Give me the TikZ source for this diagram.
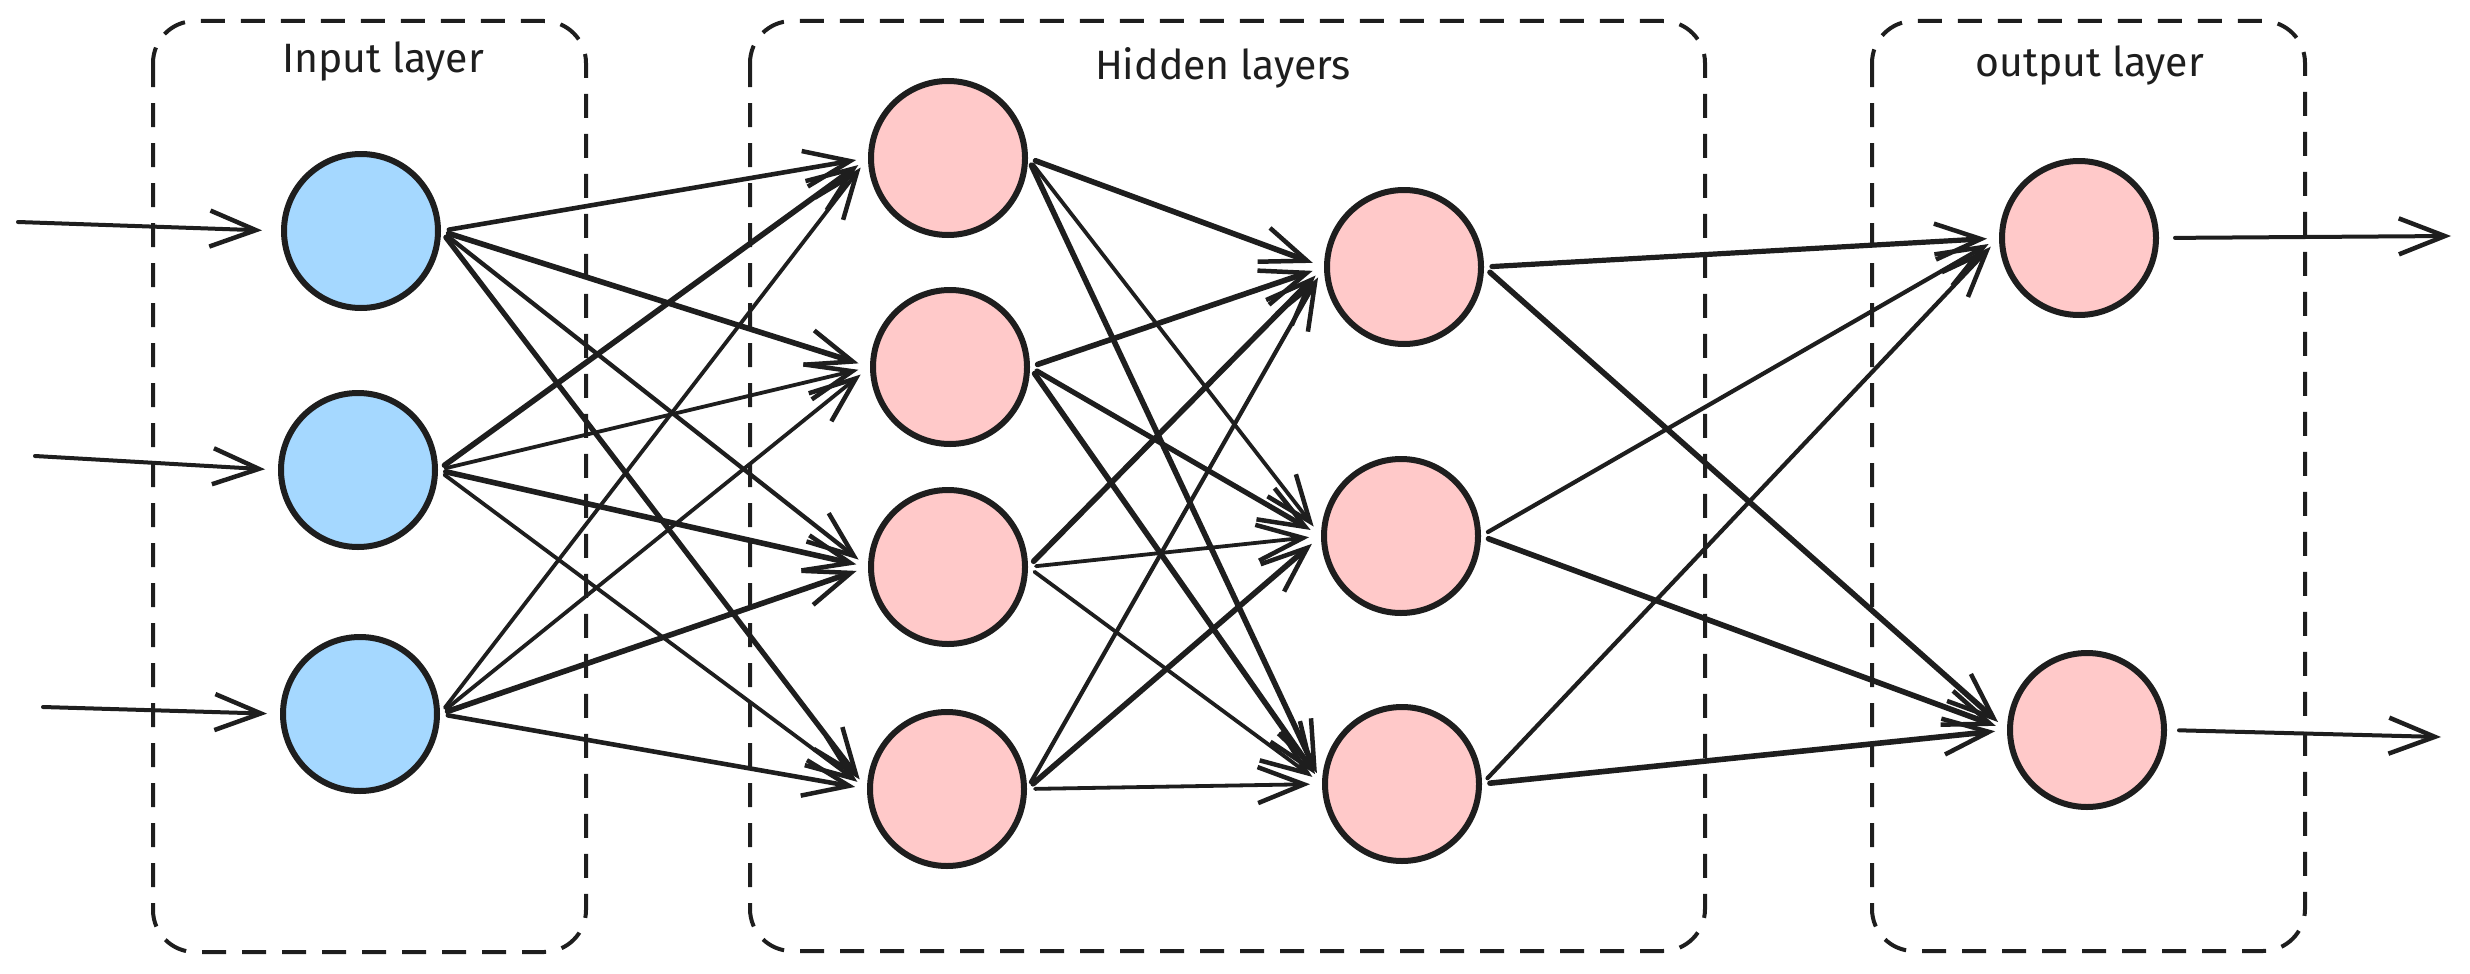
\documentclass[tikz,border=0pt]{standalone}
\usepackage{fontspec}
\setmainfont{Fira Sans}
\usetikzlibrary{arrows.meta}
\definecolor{ink}{HTML}{1E1E1E}
\definecolor{inblue}{HTML}{A5D8FF}
\definecolor{hidpink}{HTML}{FFC9C9}
\begin{document}
\begin{tikzpicture}[x=1pt,y=-1pt,
  neuron/.style={circle, draw=ink, line width=6pt, minimum size=154pt, inner sep=0pt},
  inneuron/.style={neuron, fill=inblue},
  pkneuron/.style={neuron, fill=hidpink},
  layerbox/.style={draw=ink, line width=4pt, dash pattern=on 24pt off 16pt, rounded corners=42pt},
  title/.style={font=\fontsize{41}{48}\selectfont, text=ink, anchor=base},
  conn/.style={draw=ink, line width=4pt, line cap=round, -{Straight Barb[length=46pt, width=36pt, line width=4.5pt]}, shorten >=12pt, shorten <=8pt},
]
\useasboundingbox (0,0) rectangle (2470,974);
% layer boxes
\draw[layerbox] (153,21) rectangle (586,952);
\draw[layerbox] (750,21) rectangle (1705,951);
\draw[layerbox] (1872,21) rectangle (2305,951);
% titles
\node[title] (tin) at (383,73) {Input layer};
\node[title] (thid) at (1223,79) {Hidden layers};
\node[title] (tout) at (2090,76) {output layer};
% neurons
\node[inneuron] (i1) at (361,231) {};
\node[inneuron] (i2) at (358,470) {};
\node[inneuron] (i3) at (360,714) {};
\node[pkneuron] (h1a) at (948,158) {};
\node[pkneuron] (h1b) at (950,367) {};
\node[pkneuron] (h1c) at (948,567) {};
\node[pkneuron] (h1d) at (947,789) {};
\node[pkneuron] (h2a) at (1404,267) {};
\node[pkneuron] (h2b) at (1401,536) {};
\node[pkneuron] (h2c) at (1402,784) {};
\node[pkneuron] (o1) at (2079,238) {};
\node[pkneuron] (o2) at (2087,730) {};
% free ends
\coordinate (s1) at (18,222);
\coordinate (s2) at (35,456);
\coordinate (s3) at (43,707);
\coordinate (e1) at (2451,236);
\coordinate (e2) at (2441,737);
% input arrows
\draw[conn, shorten <=0pt, shorten >=19pt] (s1) -- (i1.west);
\draw[conn, shorten <=0pt, shorten >=13pt] (s2) -- (i2.west);
\draw[conn, shorten <=0pt, shorten >=13pt] (s3) -- (i3.west);
% output arrows
\draw[conn, shorten <=16pt, shorten >=0pt] (o1.east) -- (e1);
\draw[conn, shorten <=12pt, shorten >=0pt] (o2.east) -- (e2);
% input -> hidden 1
\foreach \s/\t/\w in {i1/h1a/4.6, i1/h1b/5.6, i1/h1c/4.3, i1/h1d/5.2,
                      i2/h1a/5.6, i2/h1b/3.8, i2/h1c/5.6, i2/h1d/3.8,
                      i3/h1a/3.8, i3/h1b/3.8, i3/h1c/5.6, i3/h1d/4.6}
  \draw[conn, line width=\w pt] (\s.east) -- (\t.west);
% hidden 1 -> hidden 2
\foreach \s/\t/\w in {h1a/h2a/5.6, h1a/h2b/3.8, h1a/h2c/5.6,
                      h1b/h2a/5.6, h1b/h2b/5.2, h1b/h2c/5.6,
                      h1c/h2a/5.6, h1c/h2b/3.8, h1c/h2c/3.8,
                      h1d/h2a/4.2, h1d/h2b/5.6, h1d/h2c/3.8}
  \draw[conn, line width=\w pt] (\s.east) -- (\t.west);
% hidden 2 -> output
\foreach \s/\t/\w in {h2a/o1/5.2, h2a/o2/5.6,
                      h2b/o1/4.2, h2b/o2/5.6,
                      h2c/o1/4.2, h2c/o2/5.6}
  \draw[conn, line width=\w pt] (\s.east) -- (\t.west);
\end{tikzpicture}
\end{document}
